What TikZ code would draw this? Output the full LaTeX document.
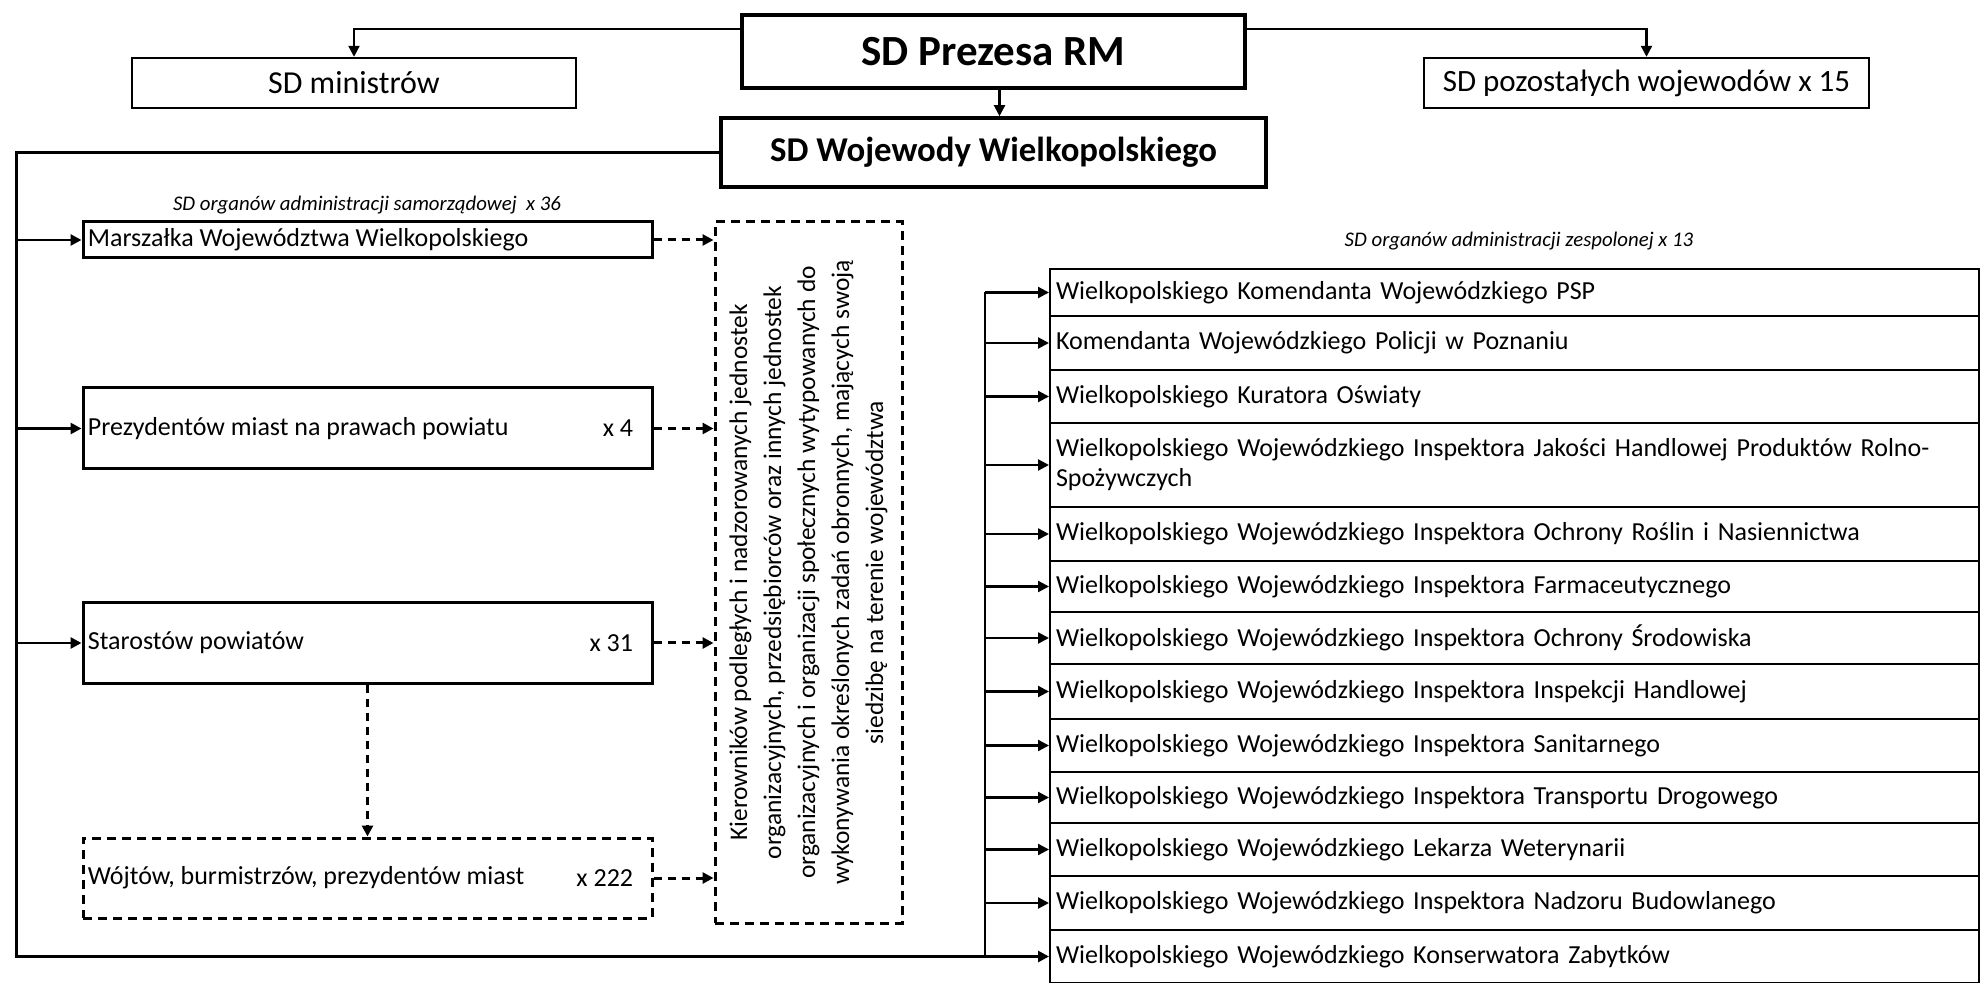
\documentclass[tikz,border=0pt]{standalone}
\usepackage{fontspec}
\setmainfont{Carlito}
\usetikzlibrary{arrows.meta,calc}
\begin{document}
\begin{tikzpicture}[x=0.5pt,y=-0.5pt,
  box/.style={draw, line width=1.5pt, inner sep=0pt},
  dbox/.style={draw, line width=1.5pt, dash pattern=on 4.5pt off 3pt, inner sep=0pt},
  conn/.style={line width=1.1pt},
  arr/.style={conn, -{Triangle[length=5.5pt,width=5.5pt]}},
  darr/.style={line width=1.5pt, dash pattern=on 4pt off 3pt, -{Triangle[length=5.5pt,width=5.5pt]}},
  row/.style={draw, line width=1pt, text width=458.5pt, inner xsep=3pt, inner ysep=0pt, align=left, font=\fontsize{13}{15}\selectfont},
  lbl/.style={inner sep=0pt, font=\fontsize{13}{15}\selectfont},
  ital/.style={inner sep=0pt, font=\fontsize{10.4}{12}\selectfont\itshape},
]
\useasboundingbox (0,0) rectangle (1981,983);
\fill[white] (0,0) rectangle (1981,983);
\clip (0,0) rectangle (1981,983);

% top level
\node[box, line width=2pt, minimum width=251.5pt, minimum height=36.5pt, font=\fontsize{21.5}{23}\selectfont\bfseries] (prezes) at (993.5,51.5) {SD Prezesa RM};
\node[box, line width=1.8pt, minimum width=272.5pt, minimum height=34.5pt, font=\fontsize{17.4}{20}\selectfont\bfseries] (woj) at (993.5,152.5) {SD Wojewody Wielkopolskiego};
\node[box, line width=1.2pt, minimum width=222pt, minimum height=25pt, font=\fontsize{16}{18}\selectfont] (min) at (354,83) {SD ministrów};
\node[box, line width=1.2pt, minimum width=222.5pt, minimum height=25pt, font=\fontsize{15.5}{18}\selectfont] (poz) at (1646.5,83) {SD pozostałych wojewodów x 15};

% left column
\node[ital] (samT) at (367,205) {SD organów administracji samorządowej\ \ x 36};
\node[box, minimum width=284.5pt, minimum height=18pt] (mar) at (367.5,240) {};
\node[box, minimum width=284.5pt, minimum height=40.5pt] (prez) at (367.5,428.5) {};
\node[box, minimum width=284.5pt, minimum height=40pt] (star) at (367.5,643) {};
\node[dbox, minimum width=284.5pt, minimum height=40pt] (wojt) at (367.5,878) {};
\node[lbl, anchor=west] (marT) at ([xshift=3pt]mar.west) {Marszałka Województwa Wielkopolskiego};
\node[lbl, anchor=west] (prezT) at ([xshift=3pt]prez.west) {Prezydentów miast na prawach powiatu};
\node[lbl, anchor=east] (prezN) at ([xshift=-10pt]prez.east) {x 4};
\node[lbl, anchor=west] (starT) at ([xshift=3pt]star.west) {Starostów powiatów};
\node[lbl, anchor=east] (starN) at ([xshift=-10pt]star.east) {x 31};
\node[lbl, anchor=west] (wojtT) at ([xshift=3pt]wojt.west) {Wójtów, burmistrzów, prezydentów miast};
\node[lbl, anchor=east] (wojtN) at ([xshift=-10pt]wojt.east) {x 222};

% dashed middle box
\node[dbox, minimum width=93.5pt, minimum height=350.5pt] (kier) at (808.5,572.5) {};
\node[rotate=90, align=center, inner sep=0pt, font=\fontsize{12.7}{17}\selectfont] (kierT) at (kier.center)
  {Kierowników podległych i nadzorowanych jednostek\\
   organizacyjnych, przedsiębiorców oraz innych jednostek\\
   organizacyjnych i organizacji społecznych wytypowanych do\\
   wykonywania określonych zadań obronnych, mających swoją\\
   siedzibę na terenie województwa};

% right table
\node[ital] (zesT) at (1519,241) {SD organów administracji zespolonej x 13};
\node[row, minimum height=23.5pt] (r1) at (1514.5,292.5) {Wielkopolskiego Komendanta Wojewódzkiego PSP};
\node[row, minimum height=27pt] (r2) at (1514.5,343) {Komendanta Wojewódzkiego Policji w Poznaniu};
\node[row, minimum height=26.5pt] (r3) at (1514.5,396.5) {Wielkopolskiego Kuratora Oświaty};
\node[row, minimum height=42pt] (r4) at (1514.5,465) {Wielkopolskiego Wojewódzkiego Inspektora Jakości Handlowej Produktów Rolno-\\Spożywczych};
\node[row, minimum height=27pt] (r5) at (1514.5,534) {Wielkopolskiego Wojewódzkiego Inspektora Ochrony Roślin i Nasiennictwa};
\node[row, minimum height=25.5pt] (r6) at (1514.5,586.5) {Wielkopolskiego Wojewódzkiego Inspektora Farmaceutycznego};
\node[row, minimum height=26pt] (r7) at (1514.5,638) {Wielkopolskiego Wojewódzkiego Inspektora Ochrony Środowiska};
\node[row, minimum height=27.5pt] (r8) at (1514.5,691.5) {Wielkopolskiego Wojewódzkiego Inspektora Inspekcji Handlowej};
\node[row, minimum height=26.5pt] (r9) at (1514.5,745.5) {Wielkopolskiego Wojewódzkiego Inspektora Sanitarnego};
\node[row, minimum height=25.5pt] (r10) at (1514.5,797.5) {Wielkopolskiego Wojewódzkiego Inspektora Transportu Drogowego};
\node[row, minimum height=26.5pt] (r11) at (1514.5,849.5) {Wielkopolskiego Wojewódzkiego Lekarza Weterynarii};
\node[row, minimum height=27pt] (r12) at (1514.5,903) {Wielkopolskiego Wojewódzkiego Inspektora Nadzoru Budowlanego};
\node[row, minimum height=26.5pt] (r13) at (1514.5,956.5) {Wielkopolskiego Wojewódzkiego Konserwatora Zabytków};

% connectors top
\draw[arr] ([yshift=-8pt]prezes.north west) -| (min.north);
\draw[arr] ([yshift=-8pt]prezes.north east) -| (poz.north);
\draw[arr] ([xshift=3pt]prezes.south) -- ([xshift=3pt]woj.north);

% left trunk
\coordinate (lx) at (16,153);
\coordinate (rx) at (985,300);
\draw[arr, line width=1.5pt] (woj.west) -| (lx |- r13.west) -- (r13.west);
\foreach \n in {mar,prez,star} \draw[arr, line width=1.4pt] (lx |- \n.west) -- (\n.west);
\foreach \n in {mar,prez,star,wojt} \draw[darr] (\n.east) -- (kier.west |- \n.east);
\draw[darr] (star.south) -- (wojt.north);

% right trunk
\draw[conn] (rx |- r1.west) -- (rx |- r13.west);
\foreach \i in {1,...,12} \draw[arr] (rx |- r\i.west) -- (r\i.west);
\end{tikzpicture}
\end{document}
